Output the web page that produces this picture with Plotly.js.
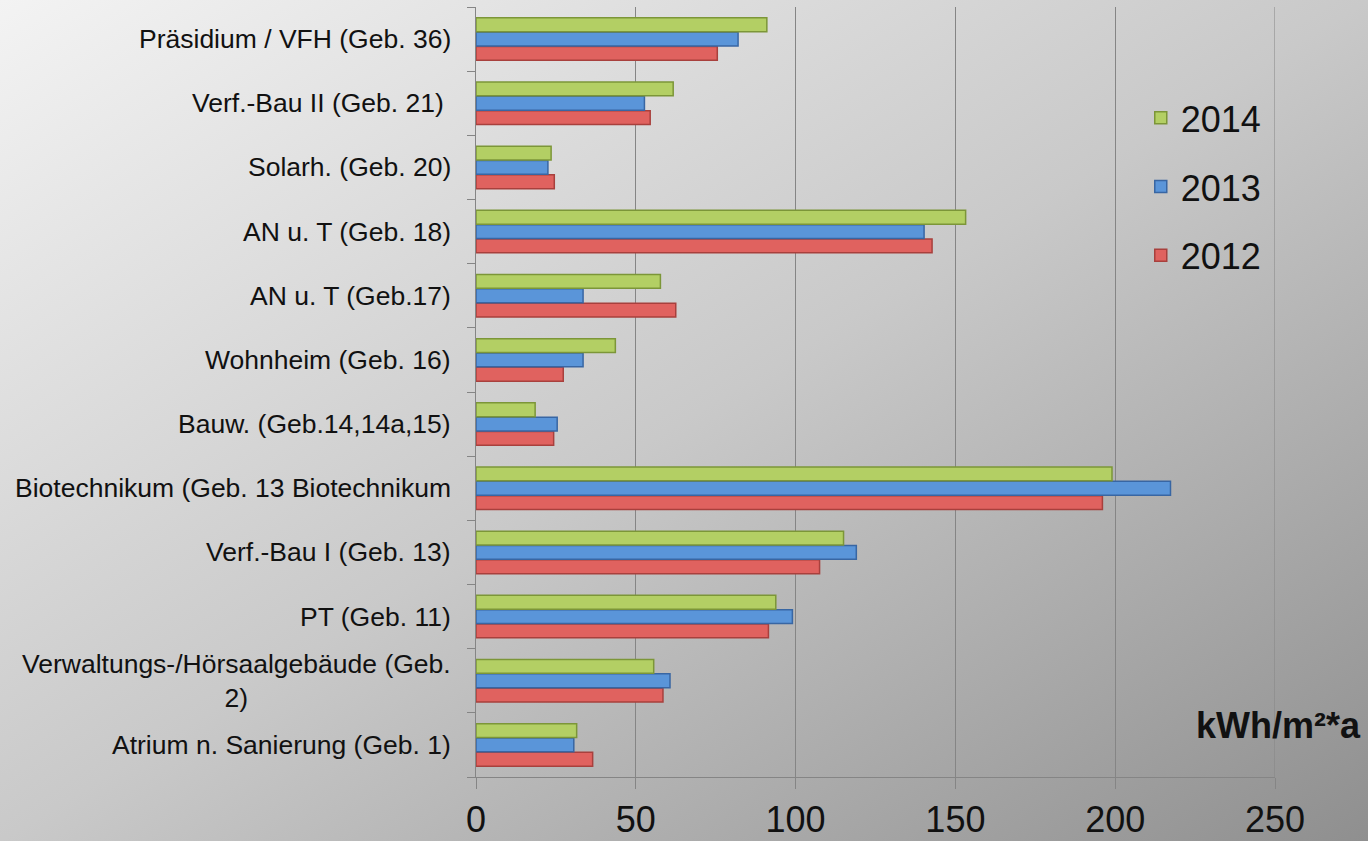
<!DOCTYPE html>
<html>
<head>
<meta charset="utf-8">
<script src="https://cdn.plot.ly/plotly-3.0.1.min.js"></script>
<style>
  html, body { margin: 0; padding: 0; }
  body { width: 1368px; height: 841px; overflow: hidden;
         background: linear-gradient(to bottom right, #f3f3f3 0%, #c9c9c9 50%, #8f8f8f 100%); }
  #chart { width: 1368px; height: 841px; }
</style>
</head>
<body>
<div id="chart"></div>
<script>
// Categories, bottom to top as drawn
const categories = [
  "Atrium n. Sanierung (Geb. 1)",
  "Verwaltungs-/Hörsaalgebäude (Geb. 2)",
  "PT (Geb. 11)",
  "Verf.-Bau I (Geb. 13)",
  "Biotechnikum (Geb. 13 Biotechnikum",
  "Bauw. (Geb.14,14a,15)",
  "Wohnheim (Geb. 16)",
  "AN u. T (Geb.17)",
  "AN u. T (Geb. 18)",
  "Solarh. (Geb. 20)",
  "Verf.-Bau II (Geb. 21)",
  "Präsidium / VFH (Geb. 36)"
];
// Displayed tick labels (same order)
const tickLabels = [
  "Atrium n. Sanierung (Geb. 1)",
  "Verwaltungs-/Hörsaalgebäude (Geb.<br>2)",
  "PT (Geb. 11)",
  "Verf.-Bau I (Geb. 13)",
  "Biotechnikum (Geb. 13 Biotechnikum",
  "Bauw. (Geb.14,14a,15)",
  "Wohnheim (Geb. 16)",
  "AN u. T (Geb.17)",
  "AN u. T (Geb. 18)",
  "Solarh. (Geb. 20)",
  "Verf.-Bau II (Geb. 21)\u00a0",
  "Präsidium / VFH (Geb. 36)"
];
const values2012 = [36.5, 58.5, 91.5, 107.5, 196, 24.3, 27.3, 62.5, 142.7, 24.5, 54.5, 75.5];
const values2013 = [30.6, 60.7, 99, 119, 217.3, 25.4, 33.5, 33.5, 140.2, 22.5, 52.7, 82];
const values2014 = [31.5, 55.6, 93.8, 115, 199, 18.5, 43.6, 57.7, 153.2, 23.5, 61.7, 91];
const seriesNames = ["2012", "2013", "2014"];
const legendRanks = [3, 2, 1];
const xTicks = [0, 50, 100, 150, 200, 250];
const unitLabel = "kWh/m²*a";

const FONT = "Liberation Sans, Arial, sans-serif";
const fills = ["#e0625f", "#5a95d9", "#b3cf64"];
const edges = ["#a8403d", "#3866a3", "#7c9638"];
const allValues = [values2012, values2013, values2014];
const xMax = xTicks[xTicks.length - 1];

const traces = allValues.map((vals, i) => ({
  type: "bar",
  orientation: "h",
  name: seriesNames[i],
  legendgroup: seriesNames[i],
  legendrank: legendRanks[i],
  y: categories,
  x: vals,
  marker: { color: fills[i], line: { color: edges[i], width: 1.5 } },
  hoverinfo: "x+name"
}));

const annotations = categories.map((c, i) => ({
  xref: "paper", x: 0, xanchor: "right", xshift: -23,
  yref: "y", y: c, yanchor: "middle",
  text: tickLabels[i],
  showarrow: false,
  align: tickLabels[i].indexOf("<br>") >= 0 ? "center" : "right",
  font: { family: FONT, size: 26.5, color: "#111111" }
}));
annotations.push({
  xref: "paper", x: 1.11, xanchor: "right",
  yref: "paper", y: 0.0675, yanchor: "middle",
  text: "<b>" + unitLabel + "</b>",
  showarrow: false,
  font: { family: FONT, size: 36, color: "#111111" }
});

const layout = {
  width: 1368, height: 841,
  paper_bgcolor: "rgba(0,0,0,0)",
  plot_bgcolor: "rgba(0,0,0,0)",
  margin: { l: 476, r: 93, t: 7, b: 64, pad: 0 },
  barmode: "group",
  bargap: 0.33,
  bargroupgap: 0.04,
  showlegend: true,
  legend: {
    x: 0.832, xanchor: "left",
    y: 0.895, yanchor: "top",
    traceorder: "grouped",
    tracegroupgap: 19,
    bgcolor: "rgba(0,0,0,0)",
    font: { family: FONT, size: 36, color: "#111111" }
  },
  xaxis: {
    range: [0, xMax],
    tickvals: xTicks,
    ticktext: xTicks.map(String),
    showgrid: true, gridcolor: "#858585", gridwidth: 1,
    zeroline: false,
    showline: true, linecolor: "#858585", linewidth: 1,
    ticks: "outside", ticklen: 11, tickcolor: "#858585",
    ticklabelstandoff: 0,
    tickfont: { family: FONT, size: 36, color: "#111111" },
    fixedrange: true
  },
  yaxis: {
    type: "category",
    categoryorder: "array", categoryarray: categories,
    showticklabels: false,
    tickson: "boundaries",
    ticks: "outside", ticklen: 8, tickcolor: "#858585",
    showgrid: false, zeroline: false,
    showline: true, linecolor: "#858585", linewidth: 1,
    fixedrange: true
  },
  shapes: [{
    type: "line", layer: "below",
    xref: "x", x0: xMax, x1: xMax,
    yref: "paper", y0: 0, y1: 1,
    line: { color: "#858585", width: 1 }
  }],
  annotations: annotations,
  font: { family: FONT, color: "#111111" }
};

Plotly.newPlot("chart", traces, layout, { displayModeBar: false, staticPlot: true });
</script>
</body>
</html>
